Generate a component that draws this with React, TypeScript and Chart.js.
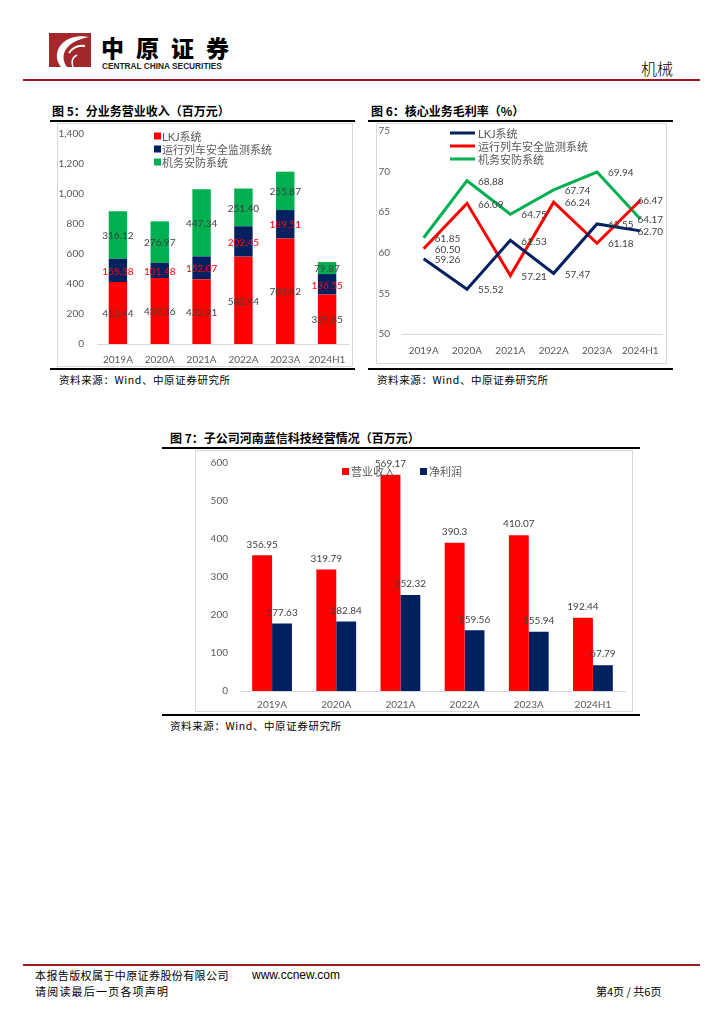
import React, { useEffect, useRef } from "react";
import { Chart, registerables } from "chart.js";

Chart.register(...registerables);

// ---------- data ----------
const years = ["2019A", "2020A", "2021A", "2022A", "2023A", "2024H1"];

const segmentNames = ["LKJ系统", "运行列车安全监测系统", "机务安防系统"];
const lkjRevenue = [413.44, 439.36, 432.21, 582.44, 703.42, 329.85];
const monitorRevenue = [155.38, 101.48, 152.07, 202.45, 189.51, 136.55];
const securityRevenue = [316.12, 276.97, 447.34, 251.4, 255.87, 79.87];

const lkjMargin = [59.26, 55.52, 61.53, 57.47, 63.55, 62.7];
const monitorMargin = [60.5, 66.09, 57.21, 66.24, 61.18, 66.47];
const securityMargin = [61.85, 68.88, 64.75, 67.74, 69.94, 64.17];

const subNames = ["营业收入", "净利润"];
const subRevenue = [356.95, 319.79, 569.17, 390.3, 410.07, 192.44];
const subProfit = [177.63, 182.84, 252.32, 159.56, 155.94, 67.79];

const RED = "#FF0000";
const NAVY = "#002060";
const GREEN = "#00B050";
const TICK = "#595959";
const LABEL = "#404040";
const LATIN = "Lato, 'Noto Sans CJK SC', sans-serif";
const CJK = "'Noto Sans CJK SC', sans-serif";

Chart.defaults.font.family = LATIN;
Chart.defaults.font.size = 10;
Chart.defaults.color = TICK;

function ChartCanvas(props: { left: number; top: number; width: number; height: number; make: () => any }) {
  const ref = useRef<HTMLCanvasElement>(null);
  useEffect(() => {
    const chart = new Chart(ref.current as HTMLCanvasElement, props.make());
    return () => chart.destroy();
  }, []);
  return (
    <canvas
      ref={ref}
      width={props.width}
      height={props.height}
      style={{ position: "absolute", left: props.left, top: props.top, width: props.width, height: props.height }}
    />
  );
}

const fixY = (w: number) => (s: any) => {
  s.width = w;
  s.paddingTop = 0;
  s.paddingBottom = 0;
};
const fixX = (h: number) => (s: any) => {
  s.height = h;
  s.paddingLeft = 0;
  s.paddingRight = 0;
};
const xTicks = (padding: number) => ({
  padding,
  color: TICK,
  font: { size: 10 },
  maxRotation: 0,
  minRotation: 0,
  autoSkip: false,
});

// ---------- chart 5 : stacked revenue ----------
function makeChart5() {
  const labelColors = [LABEL, RED, LABEL];
  const colors = [RED, NAVY, GREEN];
  const plugin = {
    id: "c5labels",
    afterDatasetsDraw(chart: any) {
      const ctx = chart.ctx;
      ctx.save();
      ctx.font = `10px ${LATIN}`;
      ctx.textAlign = "center";
      ctx.textBaseline = "middle";
      chart.data.datasets.forEach((ds: any, i: number) => {
        const meta = chart.getDatasetMeta(i);
        meta.data.forEach((bar: any, j: number) => {
          const p = bar.getProps(["x", "y", "base"], true);
          ctx.fillStyle = labelColors[i];
          ctx.fillText(Number(ds.data[j]).toFixed(2), p.x, (p.y + p.base) / 2 + 1);
        });
      });
      // legend
      ctx.textAlign = "left";
      ctx.font = `11px ${LATIN}`;
      segmentNames.forEach((name, i) => {
        const cy = 12 + i * 13;
        ctx.fillStyle = colors[i];
        ctx.fillRect(96, cy - 3.5, 7, 7);
        ctx.fillStyle = TICK;
        ctx.fillText(name, 104, cy + 1);
      });
      ctx.restore();
    },
  };
  return {
    type: "bar",
    data: {
      labels: years,
      datasets: [
        { label: segmentNames[0], data: lkjRevenue, backgroundColor: RED },
        { label: segmentNames[1], data: monitorRevenue, backgroundColor: NAVY },
        { label: segmentNames[2], data: securityRevenue, backgroundColor: GREEN },
      ],
    },
    options: {
      responsive: false,
      animation: false,
      layout: { padding: { left: 0, top: 10, right: 3, bottom: 0 } },
      datasets: { bar: { barPercentage: 0.44, categoryPercentage: 1 } },
      plugins: { legend: { display: false }, tooltip: { enabled: false } },
      scales: {
        x: {
          stacked: true,
          grid: { display: false, drawTicks: false },
          border: { display: true, color: "#d9d9d9" },
          ticks: xTicks(10),
          afterFit: fixX(21),
        },
        y: {
          stacked: true,
          min: 0,
          max: 1400,
          grid: { display: false, drawTicks: false },
          border: { display: false },
          ticks: {
            stepSize: 200,
            padding: 13,
            color: TICK,
            font: { size: 10 },
            callback: (v: any) => Number(v).toLocaleString("en-US"),
          },
          afterFit: fixY(39),
        },
      },
    },
    plugins: [plugin],
  };
}

// ---------- chart 6 : margins ----------
function makeChart6() {
  const colors = [NAVY, RED, GREEN];
  const plugin = {
    id: "c6labels",
    afterDatasetsDraw(chart: any) {
      const ctx = chart.ctx;
      const right = chart.chartArea.right + 1;
      ctx.save();
      ctx.font = `10px ${LATIN}`;
      ctx.textBaseline = "middle";
      ctx.fillStyle = LABEL;
      chart.data.datasets.forEach((ds: any, i: number) => {
        const meta = chart.getDatasetMeta(i);
        meta.data.forEach((pt: any, j: number) => {
          const txt = Number(ds.data[j]).toFixed(2);
          const w = ctx.measureText(txt).width;
          let x = pt.x + 11;
          if (x + w > right) x = right - w;
          ctx.textAlign = "left";
          ctx.fillText(txt, x, pt.y + 1);
        });
      });
      ctx.font = `11px ${LATIN}`;
      ctx.textAlign = "left";
      segmentNames.forEach((name, i) => {
        const cy = 9 + i * 13;
        ctx.strokeStyle = colors[i];
        ctx.lineWidth = 3;
        ctx.beginPath();
        ctx.moveTo(72, cy);
        ctx.lineTo(97, cy);
        ctx.stroke();
        ctx.fillStyle = TICK;
        ctx.fillText(name, 100, cy + 1);
      });
      ctx.restore();
    },
  };
  const line = (label: string, data: number[], color: string) => ({
    label,
    data,
    borderColor: color,
    backgroundColor: color,
    borderWidth: 3,
    pointRadius: 0,
    tension: 0,
    fill: false,
  });
  return {
    type: "line",
    data: {
      labels: years,
      datasets: [
        line(segmentNames[0], lkjMargin, NAVY),
        line(segmentNames[1], monitorMargin, RED),
        line(segmentNames[2], securityMargin, GREEN),
      ],
    },
    options: {
      responsive: false,
      animation: false,
      layout: { padding: { left: 0, top: 7, right: 4, bottom: 0 } },
      plugins: { legend: { display: false }, tooltip: { enabled: false } },
      scales: {
        x: {
          offset: true,
          grid: { display: false, drawTicks: false },
          border: { display: true, color: "#d9d9d9" },
          ticks: xTicks(11),
          afterFit: fixX(29),
        },
        y: {
          min: 50,
          max: 75,
          grid: { display: false, drawTicks: false },
          border: { display: false },
          ticks: { stepSize: 5, padding: 12, color: TICK, font: { size: 10 } },
          afterFit: fixY(24),
        },
      },
    },
    plugins: [plugin],
  };
}

// ---------- chart 7 : subsidiary ----------
function makeChart7() {
  const colors = [RED, NAVY];
  const plugin = {
    id: "c7labels",
    afterDatasetsDraw(chart: any) {
      const ctx = chart.ctx;
      ctx.save();
      ctx.font = `10px ${LATIN}`;
      ctx.textAlign = "center";
      ctx.textBaseline = "middle";
      ctx.fillStyle = LABEL;
      chart.data.datasets.forEach((ds: any, i: number) => {
        const meta = chart.getDatasetMeta(i);
        meta.data.forEach((bar: any, j: number) => {
          ctx.fillText(String(ds.data[j]), bar.x, bar.y - 11);
        });
      });
      ctx.textAlign = "left";
      ctx.font = `11px ${LATIN}`;
      const xs = [146, 224];
      subNames.forEach((name, i) => {
        ctx.fillStyle = colors[i];
        ctx.fillRect(xs[i], 17, 7, 7);
        ctx.fillStyle = TICK;
        ctx.fillText(name, xs[i] + 9, 21);
      });
      ctx.restore();
    },
  };
  return {
    type: "bar",
    data: {
      labels: years,
      datasets: [
        { label: subNames[0], data: subRevenue, backgroundColor: RED },
        { label: subNames[1], data: subProfit, backgroundColor: NAVY },
      ],
    },
    options: {
      responsive: false,
      animation: false,
      layout: { padding: { left: 0, top: 12, right: 7, bottom: 0 } },
      datasets: { bar: { barPercentage: 1, categoryPercentage: 0.62 } },
      plugins: { legend: { display: false }, tooltip: { enabled: false } },
      scales: {
        x: {
          grid: { display: false, drawTicks: false },
          border: { display: true, color: "#d9d9d9" },
          ticks: xTicks(8),
          afterFit: fixX(20),
        },
        y: {
          min: 0,
          max: 600,
          grid: { display: false, drawTicks: false },
          border: { display: false },
          ticks: { stepSize: 100, padding: 12, color: TICK, font: { size: 10 } },
          afterFit: fixY(44),
        },
      },
    },
    plugins: [plugin],
  };
}

const abs = (s: React.CSSProperties): React.CSSProperties => ({ position: "absolute", ...s });

function Title(props: { left: number; top: number; text: string }) {
  return (
    <div style={abs({ left: props.left, top: props.top, fontFamily: CJK, fontWeight: 700, fontSize: 12, lineHeight: "14px", whiteSpace: "nowrap", color: "#000" })}>
      {props.text}
    </div>
  );
}

function Source(props: { left: number; top: number }) {
  return (
    <div style={abs({ left: props.left, top: props.top, fontFamily: CJK, fontSize: 10.5, lineHeight: "12px", whiteSpace: "nowrap", color: "#000", letterSpacing: 0.6 })}>
      资料来源：Wind、中原证券研究所
    </div>
  );
}

function Rule(props: { left: number; top: number; width: number }) {
  return <div style={abs({ left: props.left, top: props.top, width: props.width, height: 2, background: "#000" })} />;
}

function Frame(props: { left: number; top: number; width: number; height: number }) {
  return <div style={abs({ left: props.left, top: props.top, width: props.width, height: props.height, border: "1px solid #d9d9d9", boxSizing: "border-box" })} />;
}

export default function App() {
  return (
    <div style={abs({ left: 0, top: 0, width: 724, height: 1024, background: "#fff", overflow: "hidden" })}>
      {/* header */}
      <svg style={abs({ left: 49, top: 33 })} width={42} height={34} viewBox="0 0 42 34">
        <rect x={0} y={0} width={42} height={34} fill="#A3282C" />
        <path d="M12 34 C 4 24, 8 10, 22 5 C 28 3, 34 3, 40 4 C 30 6, 20 10, 16 18 C 13 24, 15 30, 18 34 Z" fill="#fff" />
        <path d="M20 20 C 24 14, 30 12, 36 13" stroke="#fff" strokeWidth={2} fill="none" />
        <path d="M24 34 C 22 28, 24 24, 28 22" stroke="#fff" strokeWidth={1.5} fill="none" />
      </svg>
      <div style={abs({ left: 101, top: 35, fontFamily: CJK, fontWeight: 900, fontSize: 23, lineHeight: "24px", letterSpacing: 12, whiteSpace: "nowrap", color: "#000" })}>
        中原证券
      </div>
      <div style={abs({ left: 102, top: 62, fontFamily: "'Liberation Sans', sans-serif", fontWeight: 700, fontSize: 8.3, lineHeight: "9px", whiteSpace: "nowrap", color: "#222" })}>
        CENTRAL CHINA SECURITIES
      </div>
      <div style={abs({ left: 641, top: 59, fontFamily: CJK, fontWeight: 300, fontSize: 16, lineHeight: "18px", whiteSpace: "nowrap", color: "#000" })}>
        机械
      </div>
      <div style={abs({ left: 23, top: 79, width: 677, height: 2, background: "#9B1B1E" })} />

      {/* figure 5 */}
      <Title left={52} top={104} text="图 5：分业务营业收入（百万元）" />
      <Rule left={50} top={120} width={305} />
      <Frame left={57} top={123} width={296} height={244} />
      <ChartCanvas left={58} top={124} width={293} height={241} make={makeChart5} />
      <Rule left={50} top={368} width={305} />
      <Source left={59} top={374} />

      {/* figure 6 */}
      <Title left={371} top={104} text="图 6：核心业务毛利率（%）" />
      <Rule left={368} top={120} width={305} />
      <Frame left={376} top={123} width={291} height={241} />
      <ChartCanvas left={378} top={124} width={288} height={239} make={makeChart6} />
      <Rule left={368} top={368} width={305} />
      <Source left={377} top={374} />

      {/* figure 7 */}
      <Title left={170} top={431} text="图 7：子公司河南蓝信科技经营情况（百万元）" />
      <Rule left={162} top={447} width={478} />
      <Frame left={195} top={450} width={438} height={262} />
      <ChartCanvas left={196} top={451} width={436} height={260} make={makeChart7} />
      <Rule left={162} top={714} width={478} />
      <Source left={170} top={720} />

      {/* footer */}
      <div style={abs({ left: 23, top: 964, width: 677, height: 2, background: "#9B1B1E" })} />
      <div style={abs({ left: 35, top: 968, fontFamily: CJK, fontSize: 11, lineHeight: "14px", whiteSpace: "nowrap", color: "#000", letterSpacing: 0.4 })}>
        本报告版权属于中原证券股份有限公司
      </div>
      <div style={abs({ left: 252, top: 968, fontFamily: "'Liberation Sans', sans-serif", fontSize: 12, lineHeight: "14px", whiteSpace: "nowrap", color: "#000" })}>
        www.ccnew.com
      </div>
      <div style={abs({ left: 35, top: 984, fontFamily: CJK, fontSize: 11, lineHeight: "14px", whiteSpace: "nowrap", color: "#000", letterSpacing: 1.2 })}>
        请阅读最后一页各项声明
      </div>
      <div style={abs({ left: 596, top: 984, fontFamily: CJK, fontSize: 11, lineHeight: "14px", whiteSpace: "nowrap", color: "#000" })}>
        第4页 / 共6页
      </div>
    </div>
  );
}
